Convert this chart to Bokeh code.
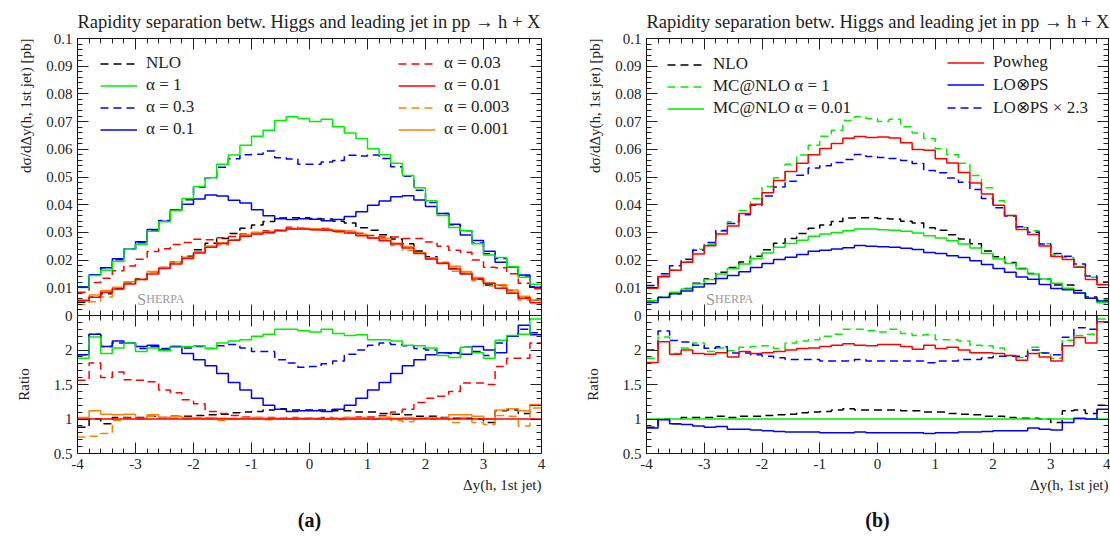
import numpy as np
from bokeh.plotting import figure
from bokeh.layouts import column, row
from bokeh.models import (LinearAxis, FixedTicker, PrintfTickFormatter, Legend,
                          LegendItem, Label, Title)
from bokeh.embed import file_html
from bokeh.resources import INLINE

FONT = "Liberation Serif"

# Binning of the rapidity separation
DY_MIN, DY_MAX, N_BINS = -4.0, 4.0, 40
edges = np.linspace(DY_MIN, DY_MAX, N_BINS + 1)

# Reference prediction: MC@NLO with alpha = 0.01, d sigma / d Delta y [pb]
mcnlo_a001 = [0.0054, 0.0066, 0.0084, 0.0096, 0.0114, 0.0130, 0.0150, 0.0170, 0.0186, 0.0206,
              0.0226, 0.0246, 0.0260, 0.0272, 0.0286, 0.0294, 0.0300, 0.0306, 0.0312, 0.0312,
              0.0310, 0.0308, 0.0304, 0.0298, 0.0288, 0.0280, 0.0270, 0.0258, 0.0244, 0.0224,
              0.0204, 0.0188, 0.0168, 0.0150, 0.0132, 0.0116, 0.0098, 0.0080, 0.0062, 0.0046]

# Ratios to the alpha = 0.01 prediction
ratio_nlo = [0.88, 1.00, 0.93, 1.02, 1.02, 1.02, 1.04, 1.02, 1.04, 1.04,
             1.05, 1.06, 1.07, 1.09, 1.10, 1.11, 1.13, 1.15, 1.13, 1.13,
             1.13, 1.13, 1.12, 1.12, 1.10, 1.10, 1.08, 1.07, 1.06, 1.04,
             1.04, 1.02, 1.01, 1.01, 1.00, 0.95, 1.12, 1.13, 1.08, 1.20]
ratio_a1 = [1.88, 2.19, 1.95, 2.03, 2.10, 1.98, 2.03, 1.99, 2.04, 2.05,
            2.06, 2.02, 2.10, 2.13, 2.15, 2.20, 2.23, 2.30, 2.30, 2.28,
            2.26, 2.30, 2.24, 2.21, 2.22, 2.15, 2.15, 2.13, 2.07, 2.06,
            2.03, 1.92, 1.89, 2.04, 1.96, 1.88, 2.14, 2.21, 2.23, 2.45]
ratio_a03 = [1.93, 2.23, 2.05, 2.10, 2.10, 2.02, 2.05, 2.02, 2.05, 2.03,
             2.05, 2.02, 2.06, 2.08, 2.03, 1.98, 1.98, 1.86, 1.81, 1.75,
             1.76, 1.80, 1.84, 1.94, 2.00, 2.07, 2.10, 2.08, 2.06, 2.02,
             2.00, 1.96, 1.95, 2.04, 1.98, 1.92, 2.10, 2.20, 2.30, 2.25]
ratio_a01 = [1.93, 2.23, 2.05, 2.13, 2.10, 2.05, 2.07, 2.00, 2.05, 1.95,
             1.86, 1.77, 1.66, 1.53, 1.42, 1.30, 1.20, 1.14, 1.11, 1.12,
             1.12, 1.11, 1.14, 1.20, 1.30, 1.42, 1.53, 1.66, 1.77, 1.86,
             1.93, 1.96, 1.96, 1.94, 2.05, 2.00, 1.96, 2.20, 2.36, 2.22]
ratio_a003 = [1.56, 1.81, 1.60, 1.68, 1.57, 1.56, 1.54, 1.42, 1.38, 1.28,
              1.22, 1.11, 1.08, 1.05, 1.03, 1.02, 1.02, 1.01, 1.02, 1.01,
              1.01, 1.02, 1.01, 1.02, 1.03, 1.03, 1.05, 1.10, 1.14, 1.24,
              1.30, 1.33, 1.40, 1.52, 1.52, 1.50, 1.76, 1.88, 1.88, 2.10]
ratio_a0003 = [0.74, 0.75, 0.79, 0.98, 1.01, 1.00, 1.04, 1.01, 1.01, 1.00,
               1.02, 1.00, 0.98, 1.01, 1.02, 1.00, 0.99, 1.00, 1.01, 1.00,
               1.00, 1.01, 0.99, 1.00, 1.02, 1.00, 1.01, 0.98, 0.96, 1.01,
               1.00, 1.01, 0.95, 1.02, 0.95, 0.92, 1.05, 1.04, 0.90, 1.16]
ratio_a0001 = [1.02, 1.12, 1.07, 1.06, 1.07, 1.01, 1.06, 1.02, 1.04, 1.02,
               1.01, 1.02, 1.01, 1.00, 1.01, 1.02, 1.01, 1.01, 1.00, 1.01,
               1.01, 1.00, 1.01, 1.02, 1.01, 1.00, 1.03, 1.01, 1.02, 1.01,
               1.02, 1.01, 1.06, 1.06, 1.04, 1.00, 1.13, 1.15, 1.12, 1.21]
ratio_powheg = [1.82, 2.12, 1.94, 2.00, 1.95, 1.94, 1.96, 1.90, 1.98, 1.95,
                1.96, 1.98, 2.00, 2.02, 2.03, 2.05, 2.07, 2.09, 2.07, 2.06,
                2.08, 2.08, 2.05, 2.01, 2.07, 2.02, 2.04, 2.00, 1.96, 1.96,
                1.95, 1.92, 1.85, 1.95, 1.90, 1.84, 2.06, 2.18, 2.10, 2.41]
ratio_lops = [0.87, 0.99, 0.93, 0.92, 0.90, 0.88, 0.89, 0.85, 0.85, 0.84,
              0.83, 0.82, 0.81, 0.81, 0.81, 0.80, 0.80, 0.80, 0.81, 0.80,
              0.80, 0.80, 0.80, 0.80, 0.79, 0.80, 0.80, 0.81, 0.81, 0.82,
              0.83, 0.83, 0.83, 0.87, 0.85, 0.84, 0.95, 1.01, 1.00, 1.14]
LOPS_SCALE = 2.3

ref = np.array(mcnlo_a001)
BLACK, GREEN, BLUE, RED, ORANGE = "#000000", "#00ee00", "#0000ff", "#ff0000", "#ff8000"
DASH = "8 5"
TEXT = "#222222"
W_LEFT, W_RIGHT = 555, 555
H_MAIN, H_RATIO = 315, 225
TOP, BOTTOM, OVERLAP = 38, 86, 10
ROW_H, ROW_GAP = 19, 2


def style_axis(ax, ticks, minor, show_labels):
    ax.ticker = FixedTicker(ticks=ticks, minor_ticks=minor)
    ax.formatter = PrintfTickFormatter(format="%g")
    ax.major_tick_in, ax.major_tick_out = 11, 0
    ax.minor_tick_in, ax.minor_tick_out = 5, 0
    ax.major_tick_line_color = TEXT
    ax.minor_tick_line_color = TEXT
    ax.axis_line_color = "#111111"
    if show_labels:
        ax.major_label_text_font = FONT
        ax.major_label_text_font_size = "15px"
        ax.major_label_text_color = TEXT
    else:
        ax.major_label_text_font_size = "0px"
        ax.major_label_text_color = None
        ax.major_label_text_alpha = 0
        ax.major_label_standoff = 0


X_TICKS = [-4, -3, -2, -1, 0, 1, 2, 3, 4]
X_MINOR = [round(v, 1) for v in np.arange(-4, 4.01, 0.2)]
Y_TICKS = [0, 0.01, 0.02, 0.03, 0.04, 0.05, 0.06, 0.07, 0.08, 0.09, 0.1]
Y_MINOR = [round(v, 3) for v in np.arange(0, 0.1001, 0.002)]
R_TICKS = [0.5, 1, 1.5, 2]
R_MINOR = [round(v, 2) for v in np.arange(0.5, 2.501, 0.1)]


def frame_axes(p, y_ticks, y_minor, x_labels, y_labels):
    style_axis(p.xaxis[0], X_TICKS, X_MINOR, x_labels)
    style_axis(p.yaxis[0], y_ticks, y_minor, y_labels)
    top = LinearAxis()
    style_axis(top, X_TICKS, X_MINOR, False)
    p.add_layout(top, "above")
    right = LinearAxis()
    style_axis(right, y_ticks, y_minor, False)
    p.add_layout(right, "right")
    p.xgrid.visible = False
    p.ygrid.visible = False
    p.outline_line_color = "#111111"


def steps(p, vals, color, dash="solid"):
    y = list(vals) + [vals[-1]]
    return p.step(edges, y, mode="after", line_color=color, line_dash=dash, line_width=1.5)


def make_panel(width, border_left, border_right, series, legend_cols, tag):
    # upper panel: distribution; its canvas reaches a little below the frame
    # so that the "0" label is not cut, and it is stacked above the ratio panel
    pm = figure(width=width, height=H_MAIN + OVERLAP,
                x_range=(DY_MIN, DY_MAX), y_range=(0, 0.1),
                output_backend="svg", toolbar_location=None,
                min_border_left=border_left, min_border_right=border_right,
                min_border_top=TOP, min_border_bottom=OVERLAP,
                title="Rapidity separation betw. Higgs and leading jet in pp → h + X")
    pm.title.align = "left"
    pm.title.text_font = FONT
    pm.title.text_font_size = "18.5px"
    pm.title.text_font_style = "normal"
    pm.title.text_color = TEXT
    pm.title.standoff = 14
    frame_axes(pm, Y_TICKS, Y_MINOR, False, True)
    # y title sits at the upper end of the axis
    pm.add_layout(Title(text="dσ/dΔy(h, 1st jet) [pb]", align="right", text_font=FONT,
                        text_font_size="15px", text_font_style="normal",
                        text_color=TEXT, standoff=20), "left")
    pm.border_fill_alpha = 0
    pm.background_fill_color = "white"
    pm.styles = {"z-index": "2", "position": "relative"}

    # lower panel: ratio to the alpha = 0.01 prediction
    pr = figure(width=width, height=H_RATIO, x_range=pm.x_range, y_range=(0.5, 2.5),
                output_backend="svg", toolbar_location=None,
                min_border_left=border_left, min_border_right=border_right,
                min_border_top=0, min_border_bottom=BOTTOM,
                margin=(-OVERLAP, 0, 0, 0))
    frame_axes(pr, R_TICKS, R_MINOR, True, True)
    pr.xaxis[0].major_label_standoff = 11
    pr.yaxis[0].axis_label = "Ratio"
    pr.yaxis[0].axis_label_text_font = FONT
    pr.yaxis[0].axis_label_text_font_size = "15px"
    pr.yaxis[0].axis_label_text_font_style = "normal"
    pr.yaxis[0].axis_label_text_color = TEXT
    pr.yaxis[0].axis_label_standoff = 19
    pr.background_fill_color = "white"
    pr.border_fill_color = "white"
    pr.styles = {"z-index": "1", "position": "relative"}

    renderers = {}
    for name, ratio, color, dash in series:
        ratio = np.asarray(ratio, dtype=float)
        renderers[name] = steps(pm, ref * ratio, color, dash)
        steps(pr, ratio, color, dash)

    frame_h = H_MAIN - TOP
    for names, xloc in legend_cols:
        items = [LegendItem(label=n, renderers=[renderers[n]]) for n in names]
        n_rows = len(names)
        height = ROW_H * n_rows + ROW_GAP * (n_rows - 1)
        leg = Legend(items=items, location=(xloc, frame_h - 19 - height),
                     glyph_width=37, glyph_height=17, label_height=17,
                     label_standoff=9, spacing=ROW_GAP, padding=0, margin=0,
                     label_text_font=FONT, label_text_font_size="17px",
                     label_text_color=TEXT,
                     border_line_alpha=0, background_fill_alpha=0)
        pm.add_layout(leg)

    # generator tag
    pm.add_layout(Label(x=-2.97, y=0.0058, text="S", text_font=FONT,
                        text_font_size="16px", text_color="#9a9a9a",
                        text_align="left", text_baseline="alphabetic"))
    pm.add_layout(Label(x=-2.97, y=0.0058, x_offset=9, text="HERPA", text_font=FONT,
                        text_font_size="12px", text_color="#9a9a9a",
                        text_align="left", text_baseline="alphabetic"))

    pr.add_layout(Title(text="Δy(h, 1st jet)", align="right", text_font=FONT,
                        text_font_size="15px", text_font_style="normal",
                        text_color=TEXT, standoff=7), "below")
    pr.add_layout(Title(text=tag, align="center", text_font=FONT,
                        text_font_size="20px", text_font_style="bold",
                        text_color="#111111", standoff=20), "below")
    return column(pm, pr)


series_a = [
    ("NLO", ratio_nlo, BLACK, DASH),
    ("α = 0.03", ratio_a003, RED, DASH),
    ("α = 0.3", ratio_a03, BLUE, DASH),
    ("α = 0.003", ratio_a0003, ORANGE, DASH),
    ("α = 0.001", ratio_a0001, ORANGE, "solid"),
    ("α = 0.01", np.ones(N_BINS), RED, "solid"),
    ("α = 0.1", ratio_a01, BLUE, "solid"),
    ("α = 1", ratio_a1, GREEN, "solid"),
]
legend_a = [(["NLO", "α = 1", "α = 0.3", "α = 0.1"], 23),
            (["α = 0.03", "α = 0.01", "α = 0.003", "α = 0.001"], 321)]

ratio_lops_scaled = LOPS_SCALE * np.asarray(ratio_lops)
series_b = [
    ("NLO", ratio_nlo, BLACK, DASH),
    ("MC@NLO α = 1", ratio_a1, GREEN, DASH),
    ("LO⊗PS × 2.3", ratio_lops_scaled, BLUE, DASH),
    ("MC@NLO α = 0.01", np.ones(N_BINS), GREEN, "solid"),
    ("LO⊗PS", ratio_lops, BLUE, "solid"),
    ("Powheg", ratio_powheg, RED, "solid"),
]
legend_b = [(["NLO", "MC@NLO α = 1", "MC@NLO α = 0.01"], 21),
            (["Powheg", "LO⊗PS", "LO⊗PS × 2.3"], 301)]

panel_a = make_panel(W_LEFT, 77, 14, series_a, legend_a, "(a)")
panel_b = make_panel(W_RIGHT, 91, 2, series_b, legend_b, "(b)")
layout = row(panel_a, panel_b)

open("out.html", "w").write(file_html(layout, INLINE))
